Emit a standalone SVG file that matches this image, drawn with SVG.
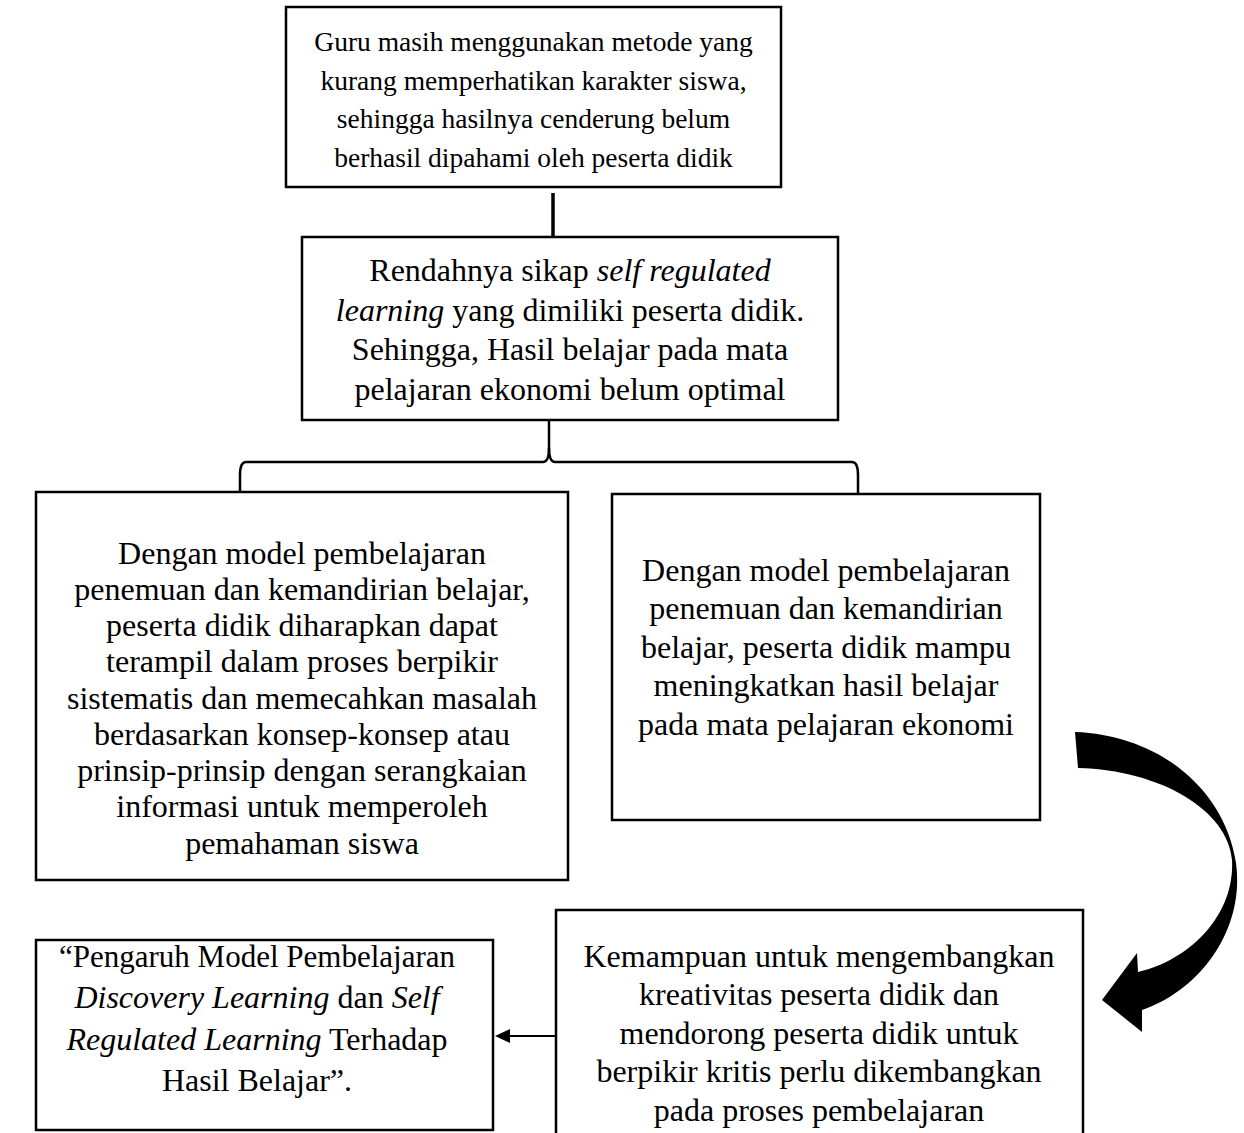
<svg xmlns="http://www.w3.org/2000/svg" width="1244" height="1133" viewBox="0 0 1244 1133">
<style>
.box{fill:#fff;stroke:#000;stroke-width:2.5}
.t{font-family:"Liberation Serif","Times New Roman",serif;font-size:32px;fill:#000;text-anchor:middle}
.s{font-size:27.5px}
.i{font-style:italic}
.c{fill:none;stroke:#000;stroke-width:2.5}
</style>
<rect width="1244" height="1133" fill="#fff"/>
<g id="connectors">
<line x1="553" y1="193" x2="553" y2="237" stroke="#000" stroke-width="3.5"/>
<path class="c" d="M549,420 L549,448 Q549,462 543,462 L246,462 Q240,462 240,475 L240,492"/>
<path class="c" d="M549,448 Q549,462 555,462 L852,462 Q858,462 858,475 L858,494"/>
<line x1="556" y1="1036" x2="508" y2="1036" stroke="#000" stroke-width="2"/>
<polygon points="495,1036 510,1029 510,1043" fill="#000"/>
<path d="M1075,732 C1160,735 1225,790 1236,863 C1245,930 1200,990 1142,1010 L1142,1032 L1102,1000 L1137,953 L1138,972 C1190,960 1235,915 1232,860 C1228,810 1160,770 1078,768 Z" fill="#000"/>
</g>
<g id="n1">
<rect class="box" x="286" y="7" width="495" height="180"/>
<text class="t s" x="533.5" y="51">Guru masih menggunakan metode yang</text>
<text class="t s" x="533.5" y="89.5">kurang memperhatikan karakter siswa,</text>
<text class="t s" x="533.5" y="128">sehingga hasilnya cenderung belum</text>
<text class="t s" x="533.5" y="166.5">berhasil dipahami oleh peserta didik</text>
</g>
<g id="n2">
<rect class="box" x="302" y="237" width="536" height="183"/>
<text class="t" x="570" y="281">Rendahnya sikap <tspan class="i">self regulated</tspan></text>
<text class="t" x="570" y="320.5"><tspan class="i">learning</tspan> yang dimiliki peserta didik.</text>
<text class="t" x="570" y="360">Sehingga, Hasil belajar pada mata</text>
<text class="t" x="570" y="399.5">pelajaran ekonomi belum optimal</text>
</g>
<g id="n3">
<rect class="box" x="36" y="492" width="532" height="388"/>
<text class="t" x="302" y="563.5">Dengan model pembelajaran</text>
<text class="t" x="302" y="599.75">penemuan dan kemandirian belajar,</text>
<text class="t" x="302" y="636">peserta didik diharapkan dapat</text>
<text class="t" x="302" y="672.25">terampil dalam proses berpikir</text>
<text class="t" x="302" y="708.5">sistematis dan memecahkan masalah</text>
<text class="t" x="302" y="744.75">berdasarkan konsep-konsep atau</text>
<text class="t" x="302" y="781">prinsip-prinsip dengan serangkaian</text>
<text class="t" x="302" y="817.25">informasi untuk memperoleh</text>
<text class="t" x="302" y="853.5">pemahaman siswa</text>
</g>
<g id="n4">
<rect class="box" x="612" y="494" width="428" height="326"/>
<text class="t" x="826" y="580.5">Dengan model pembelajaran</text>
<text class="t" x="826" y="618.5">penemuan dan kemandirian</text>
<text class="t" x="826" y="658">belajar, peserta didik mampu</text>
<text class="t" x="826" y="696">meningkatkan hasil belajar</text>
<text class="t" x="826" y="734.5">pada mata pelajaran ekonomi</text>
</g>
<g id="n5">
<rect class="box" x="556" y="910" width="527" height="240"/>
<text class="t" x="819" y="966.5">Kemampuan untuk mengembangkan</text>
<text class="t" x="819" y="1004.5">kreativitas peserta didik dan</text>
<text class="t" x="819" y="1043.5">mendorong peserta didik untuk</text>
<text class="t" x="819" y="1081.5">berpikir kritis perlu dikembangkan</text>
<text class="t" x="819" y="1120.5">pada proses pembelajaran</text>
</g>
<g id="n6">
<rect class="box" x="36" y="940" width="457" height="190"/>
<text class="t" x="257" y="966.5" style="font-size:31px">“Pengaruh Model Pembelajaran</text>
<text class="t" x="257" y="1008"><tspan class="i">Discovery Learning</tspan> dan <tspan class="i">Self</tspan></text>
<text class="t" x="257" y="1049.5"><tspan class="i">Regulated Learning</tspan> Terhadap</text>
<text class="t" x="257" y="1091">Hasil Belajar”.</text>
</g>
</svg>
